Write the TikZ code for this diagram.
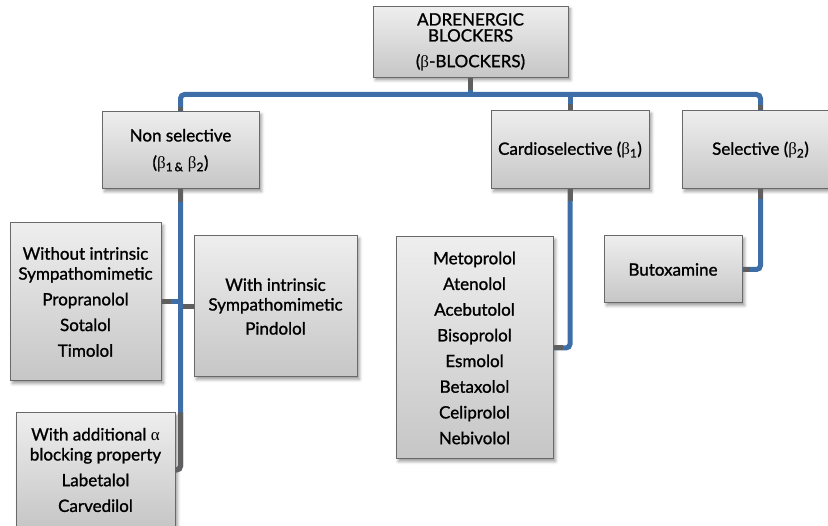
\RequirePackage{fix-cm}
\documentclass[tikz,border=0pt]{standalone}
\usepackage{fontspec}
\setmainfont{Lato}[BoldFont=Lato, BoldFeatures={FakeBold=1.2}]
\newfontfamily\grkfont{Liberation Serif}
\newcommand{\gb}{{\mdseries\grkfont β}}
\newcommand{\ga}{{\mdseries\grkfont α}}
\usetikzlibrary{shadows.blur}

\definecolor{boxtop}{RGB}{238,238,238}
\definecolor{boxbot}{RGB}{198,198,198}
\definecolor{boxedge}{RGB}{105,105,105}
\definecolor{wire}{RGB}{62,110,168}
\definecolor{stubgray}{RGB}{95,95,95}

\begin{document}
\begin{tikzpicture}[x=1pt,y=-1pt,
  box/.style={draw=boxedge, line width=1pt, top color=boxtop, bottom color=boxbot,
    align=center, inner sep=0pt, font=\fontsize{17}{25.7}\selectfont\bfseries,
    blur shadow={shadow xshift=2.5pt, shadow yshift=-2.5pt, shadow blur radius=3pt}},
  wireline/.style={draw=wire, line width=5pt, rounded corners=4pt},
  stub/.style={draw=stubgray, line width=5pt}]

\useasboundingbox (0,0) rectangle (828,526);

% boxes
\node[box, minimum width=195pt, minimum height=71pt] (top) at (470.5,42)
  {ADRENERGIC\\[-9.7pt]BLOCKERS\\(\gb-BLOCKERS)};
\node[box, minimum width=157pt, minimum height=77pt] (nonsel) at (180.5,150.5)
  {Non selective\\[1.3pt](\gb\textsubscript{1\,\&} \gb\textsubscript{2})};
\node[box, minimum width=158pt, minimum height=78pt] (cardio) at (570,150)
  {Cardioselective (\gb\textsubscript{1})};
\node[box, minimum width=157pt, minimum height=78pt] (sel) at (760.5,150)
  {Selective (\gb\textsubscript{2})};
\node[box, minimum width=151pt, minimum height=158pt] (without) at (85.5,302)
  {Without intrinsic\\[-5.7pt]Sympathomimetic\\Propranolol\\Sotalol\\Timolol};
\node[box, minimum width=163pt, minimum height=141pt] (withint) at (275.5,306.5)
  {With intrinsic\\[-6pt]Sympathomimetic\\[-1.7pt]Pindolol};
\node[box, minimum width=159pt, minimum height=114pt] (withadd) at (95.5,470)
  {With additional \ga\\[-5.7pt]blocking property\\Labetalol\\Carvedilol};
\node[box, minimum width=157pt, minimum height=222pt] (meto) at (474.5,348)
  {Metoprolol\\Atenolol\\Acebutolol\\Bisoprolol\\Esmolol\\Betaxolol\\Celiprolol\\Nebivolol};
\node[box, minimum width=138pt, minimum height=67pt] (buto) at (673,269.5)
  {Butoxamine};

% main bus
\coordinate (bus) at (470.5,94.5);
\draw[wireline] (top.south) -- (bus);
\draw[wireline] (nonsel.north) |- (bus) -| (sel.north);
\draw[wireline] (cardio.north) -- (cardio.north |- bus);

% non selective branch
\draw[wireline] (nonsel.south) |- (withadd.east);
\draw[wireline] (without.east) -- (without.east -| nonsel.south);
\draw[wireline] (withint.west) -- (withint.west -| nonsel.south);

% cardioselective and selective branches
\draw[wireline] (cardio.south) |- (meto.east);
\draw[wireline] (sel.south) |- (buto.east);

% grey ends of the connectors
\draw[stub] (top.south) -- ++(0,12);
\draw[stub] (nonsel.north) -- ++(0,-4);
\draw[stub] (cardio.north) -- ++(0,-6);
\draw[stub] (sel.north) -- ++(0,-5);
\draw[stub] (nonsel.south) -- ++(0,13);
\draw[stub, rounded corners=4pt] (withadd.north east -| nonsel.south) |- (withadd.east);
\draw[stub] (without.east) -- ++(9,0);
\draw[stub] (withint.west) -- ++(-11,0);
\draw[stub] (cardio.south) -- ++(0,12);
\draw[stub] (meto.east) -- ++(9,0);
\draw[stub] (sel.south) -- ++(0,10);
\draw[stub] (buto.east) -- ++(7,0);
\end{tikzpicture}
\end{document}
